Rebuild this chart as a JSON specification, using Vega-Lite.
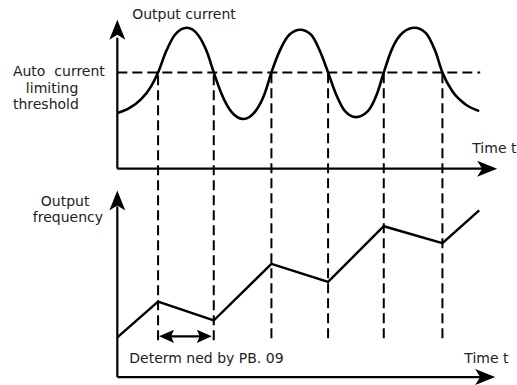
{
  "$schema": "https://vega.github.io/schema/vega-lite/v6.json",
  "width": 517,
  "height": 385,
  "autosize": {"type": "fit", "contains": "padding"},
  "padding": 0,
  "background": "white",
  "config": {"view": {"stroke": null}, "axis": {"disable": true}},
  "datasets": {
    "current": [
      {"t":118,"v":271},{"t":130,"v":276},{"t":142,"v":285},{"t":152,"v":298},{"t":159,"v":312},{"t":167,"v":333},{"t":176,"v":350},{"t":188,"v":357},{"t":199,"v":350},{"t":208,"v":333},{"t":215,"v":312},{"t":223,"v":290},{"t":233,"v":272},{"t":245,"v":265},{"t":257,"v":273},{"t":266,"v":290},{"t":273,"v":312},{"t":281,"v":333},{"t":291,"v":350},{"t":302,"v":355},{"t":313,"v":350},{"t":322,"v":333},{"t":330,"v":312},{"t":338,"v":290},{"t":347,"v":273},{"t":358,"v":267},{"t":370,"v":273},{"t":379,"v":290},{"t":386,"v":312},{"t":394,"v":335},{"t":405,"v":352},{"t":417,"v":357},{"t":428,"v":352},{"t":438,"v":333},{"t":445,"v":312},{"t":455,"v":293},{"t":468,"v":280},{"t":482,"v":273}
    ],
    "frequency": [
      {"t":118,"v":45},{"t":159,"v":81},{"t":215,"v":62},{"t":273,"v":119},{"t":330,"v":101},{"t":386,"v":157},{"t":445,"v":140},{"t":482,"v":173}
    ],
    "threshold": [{"t":118,"t2":483,"v":312}],
    "crossings": [
      {"t":159,"v":42,"v2":312},{"t":215,"v":42,"v2":312},{"t":273,"v":44,"v2":312},{"t":330,"v":44,"v2":312},{"t":386,"v":44,"v2":312},{"t":445,"v":44,"v2":312}
    ],
    "haxes": [{"t":118,"t2":488,"v":215},{"t":118,"t2":486,"v":5},{"t":170,"t2":203,"v":46}],
    "vaxes": [{"t":118,"v":215,"v2":347},{"t":118,"v":5,"v2":177}],
    "arrows": [
      {"t":118,"v":355,"dir":"up"},{"t":118,"v":183,"dir":"up"},
      {"t":490,"v":215,"dir":"right"},{"t":488,"v":5,"dir":"right"},
      {"t":167.5,"v":46,"dir":"left2"},{"t":205.5,"v":46,"dir":"right2"}
    ],
    "labels": [
      {"t":133,"v":370,"label":"Output current"},
      {"t":13,"v":312,"label":"Auto\u00a0\u00a0current"},
      {"t":26,"v":295,"label":"limiting"},
      {"t":13,"v":279,"label":"threshold"},
      {"t":41,"v":181,"label":"Output"},
      {"t":33,"v":165,"label":"frequency"},
      {"t":475,"v":235,"label":"Time t"},
      {"t":467,"v":23,"label":"Time t"},
      {"t":130,"v":23,"label":"Determ ned by PB. 09"}
    ]
  },
  "encoding": {
    "x": {"field": "t", "type": "quantitative", "scale": {"domain": [0, 517], "nice": false, "zero": false}, "axis": null},
    "y": {"field": "v", "type": "quantitative", "scale": {"domain": [0, 385], "nice": false, "zero": false}, "axis": null}
  },
  "layer": [
    {"data": {"name": "threshold"}, "mark": {"type": "rule", "color": "black", "strokeWidth": 2, "strokeDash": [10, 5]}, "encoding": {"x2": {"field": "t2"}}},
    {"data": {"name": "crossings"}, "mark": {"type": "rule", "color": "black", "strokeWidth": 2, "strokeDash": [10, 5]}, "encoding": {"y2": {"field": "v2"}}},
    {"data": {"name": "haxes"}, "mark": {"type": "rule", "color": "black", "strokeWidth": 2.2}, "encoding": {"x2": {"field": "t2"}}},
    {"data": {"name": "vaxes"}, "mark": {"type": "rule", "color": "black", "strokeWidth": 2.2}, "encoding": {"y2": {"field": "v2"}}},
    {"data": {"name": "current"}, "mark": {"type": "line", "color": "black", "strokeWidth": 2.6, "interpolate": "monotone"}, "encoding": {}},
    {"data": {"name": "frequency"}, "mark": {"type": "line", "color": "black", "strokeWidth": 2.4}, "encoding": {}},
    {"data": {"name": "arrows"}, "transform": [{"filter": "datum.dir === 'up'"}], "mark": {"type": "point", "filled": true, "color": "black", "opacity": 1, "size": 400, "shape": "M0,-1L0.8,1L0,0.5L-0.8,1Z"}},
    {"data": {"name": "arrows"}, "transform": [{"filter": "datum.dir === 'right'"}], "mark": {"type": "point", "filled": true, "color": "black", "opacity": 1, "size": 400, "shape": "M1,0L-1,-0.8L-0.5,0L-1,0.8Z"}},
    {"data": {"name": "arrows"}, "transform": [{"filter": "datum.dir === 'left2'"}], "mark": {"type": "point", "filled": true, "color": "black", "opacity": 1, "size": 225, "shape": "M-1,0L1,-0.87L0.6,0L1,0.87Z"}},
    {"data": {"name": "arrows"}, "transform": [{"filter": "datum.dir === 'right2'"}], "mark": {"type": "point", "filled": true, "color": "black", "opacity": 1, "size": 225, "shape": "M1,0L-1,-0.87L-0.6,0L-1,0.87Z"}},
    {"data": {"name": "labels"}, "mark": {"type": "text", "align": "left", "baseline": "middle", "font": "DejaVu Sans", "fontSize": 14, "color": "#222"}, "encoding": {"text": {"field": "label"}}}
  ]
}
